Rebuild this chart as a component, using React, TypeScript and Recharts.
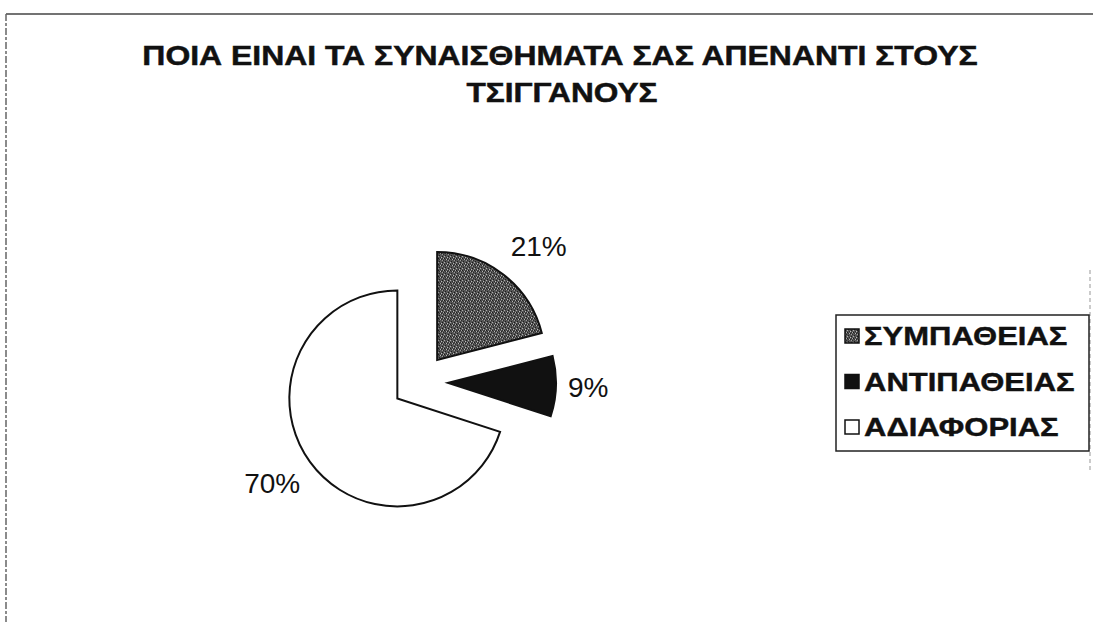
import React from 'react';
import { PieChart, Pie, Cell, Sector, Legend } from 'recharts';

const titleLines = ['ΠΟΙΑ ΕΙΝΑΙ ΤΑ ΣΥΝΑΙΣΘΗΜΑΤΑ ΣΑΣ ΑΠΕΝΑΝΤΙ ΣΤΟΥΣ', 'ΤΣΙΓΓΑΝΟΥΣ'];
const categories = ['ΣΥΜΠΑΘΕΙΑΣ', 'ΑΝΤΙΠΑΘΕΙΑΣ', 'ΑΔΙΑΦΟΡΙΑΣ'];
const percentages = [21, 9, 70];
const sliceFills = ['url(#speckle)', '#111111', '#ffffff'];

const data = categories.map((name, i) => ({ name, value: percentages[i] }));

const RADIAN = Math.PI / 180;
const EXPLODE = 28;
const FONT = "'Liberation Sans', Arial, sans-serif";

const ExplodedSector = (props: any) => {
  const { cx, cy, midAngle } = props;
  const dx = EXPLODE * Math.cos(midAngle * RADIAN);
  const dy = -EXPLODE * Math.sin(midAngle * RADIAN);
  return <Sector {...props} cx={cx + dx} cy={cy + dy} />;
};

const renderLabel = (p: any) => {
  const { cx, cy, midAngle, outerRadius, value } = p;
  const cos = Math.cos(midAngle * RADIAN);
  const sin = Math.sin(midAngle * RADIAN);
  const x = cx + (outerRadius + 40) * cos;
  const yc = cy - (outerRadius + 64) * sin;
  return (
    <text x={x} y={yc + 10} textAnchor={cos >= 0 ? 'start' : 'end'} fontFamily={FONT} fontSize={28} fill="#111">
      {value}%
    </text>
  );
};

const renderLegend = (props: any) => {
  const payload: any[] = props.payload || [];
  const items = categories.map((c, i) => {
    const found = payload.find((p: any) => p.value === c);
    return { value: found ? found.value : c, idx: i };
  });
  return (
    <svg width={256} height={138} style={{ display: 'block' }}>
      <rect x={1} y={1} width={253} height={136} fill="#fff" stroke="#222" strokeWidth={1.5} />
      {items.map((entry, i) => {
        const yc = 22 + i * 45.5;
        return (
          <g key={entry.value}>
            <rect x={10} y={yc - 7} width={14} height={14} fill={sliceFills[entry.idx]} stroke="#111" strokeWidth={1.5} />
            <g transform={`translate(29, ${yc + 9}) scale(1.24, 1)`}>
              <text x={0} y={0} fontFamily={FONT} fontWeight="bold" fontSize={25} fill="#111" stroke="#111" strokeWidth={0.4}>
                {entry.value}
              </text>
            </g>
          </g>
        );
      })}
    </svg>
  );
};

export default function App() {
  return (
    <div style={{ position: 'absolute', left: 0, top: 0, width: 1093, height: 622, background: '#fff' }}>
      <PieChart width={1093} height={622} margin={{ top: 0, right: 0, bottom: 0, left: 0 }}>
        <defs>
          <pattern id="speckle" width="6" height="6" patternUnits="userSpaceOnUse">
            <rect width="6" height="6" fill="#555555" />
            <rect x="0" y="0" width="1" height="1" fill="#1a1a1a" />
            <rect x="3" y="1" width="1" height="1" fill="#222" />
            <rect x="1" y="3" width="1" height="1" fill="#1f1f1f" />
            <rect x="4" y="4" width="1" height="1" fill="#1a1a1a" />
            <rect x="5" y="2" width="1" height="1" fill="#2a2a2a" />
            <rect x="2" y="5" width="1" height="1" fill="#2a2a2a" />
            <rect x="1" y="1" width="1" height="1" fill="#333" />
            <rect x="4" y="0" width="1" height="1" fill="#303030" />
            <rect x="2" y="1" width="1" height="1" fill="#b8b8b8" />
            <rect x="5" y="0" width="1" height="1" fill="#a8a8a8" />
            <rect x="0" y="4" width="1" height="1" fill="#b0b0b0" />
            <rect x="4" y="2" width="1" height="1" fill="#9c9c9c" />
            <rect x="3" y="5" width="1" height="1" fill="#bcbcbc" />
          </pattern>
        </defs>

        {/* outer frame */}
        <line x1={6} y1={14} x2={1093} y2={14} stroke="#444" strokeWidth={1.5} />
        <line x1={6} y1={14} x2={6} y2={622} stroke="#666" strokeWidth={1.5} strokeDasharray="7 2 3 2" />
        <line x1={1090} y1={270} x2={1090} y2={470} stroke="#bbb" strokeWidth={1.5} strokeDasharray="4 3" />

        {/* title */}
        <g transform="translate(560, 65) scale(1.14, 1)">
          <text x={0} y={0} textAnchor="middle" fontFamily={FONT} fontWeight="bold" fontSize={28} fill="#111" stroke="#111" strokeWidth={0.5}>
            {titleLines[0]}
          </text>
        </g>
        <g transform="translate(562, 102) scale(1.13, 1)">
          <text x={0} y={0} textAnchor="middle" fontFamily={FONT} fontWeight="bold" fontSize={28} fill="#111" stroke="#111" strokeWidth={0.5}>
            {titleLines[1]}
          </text>
        </g>

        <Pie
          data={data}
          dataKey="value"
          nameKey="name"
          cx={420}
          cy={382}
          outerRadius={108}
          startAngle={90}
          endAngle={-270}
          stroke="#111"
          strokeWidth={2}
          shape={ExplodedSector}
          label={renderLabel}
          labelLine={false}
          isAnimationActive={false}
        >
          {data.map((d, i) => (
            <Cell key={d.name} fill={sliceFills[i]} stroke="#111" strokeWidth={2} />
          ))}
        </Pie>

        <Legend
          content={renderLegend}
          wrapperStyle={{ position: 'absolute', left: 835, top: 314, width: 256, height: 138 }}
        />
      </PieChart>
    </div>
  );
}
